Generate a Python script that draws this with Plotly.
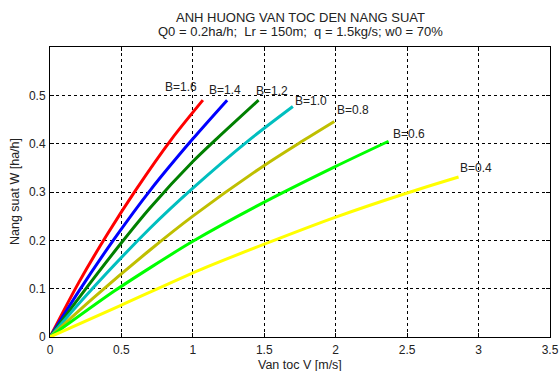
import plotly.graph_objects as go

# Width of the working section B [m] for each curve
widths = ["1.6", "1.4", "1.2", "1.0", "0.8", "0.6", "0.4"]

# Travel speed V [m/s] and productivity W [ha/h] for each width
v_16 = [0, 0.2, 0.4, 0.6, 0.85, 1.07]
w_16 = [0, 0.112, 0.212, 0.304, 0.409, 0.49]

v_14 = [0, 0.2, 0.45, 0.7, 1.0, 1.24]
w_14 = [0, 0.094, 0.203, 0.303, 0.41, 0.49]

v_12 = [0, 0.2, 0.5, 0.7, 1.0, 1.17, 1.46]
w_12 = [0, 0.08, 0.195, 0.267, 0.363, 0.411, 0.49]

v_10 = [0, 0.25, 0.7, 1.0, 1.4, 1.7]
w_10 = [0, 0.085, 0.225, 0.308, 0.409, 0.477]

v_08 = [0, 0.3, 0.7, 1.0, 1.5, 1.77, 1.99]
w_08 = [0, 0.08, 0.18, 0.25, 0.355, 0.406, 0.446]

v_06 = [0, 0.45, 0.7, 1.0, 1.5, 2.0, 2.37]
w_06 = [0, 0.095, 0.143, 0.198, 0.279, 0.353, 0.405]

v_04 = [0, 0.5, 1.05, 1.5, 2.0, 2.5, 2.86]
w_04 = [0, 0.066, 0.139, 0.192, 0.248, 0.298, 0.331]

x_ticks = [0, 0.5, 1, 1.5, 2, 2.5, 3, 3.5]
y_ticks = [0, 0.1, 0.2, 0.3, 0.4, 0.5]

title_lines = [
    "ANH HUONG VAN TOC DEN NANG SUAT",
    "Q0 = 0.2ha/h;  Lr = 150m;  q = 1.5kg/s; w0 = 70%",
]
x_title = "Van toc V [m/s]"
y_title = "Nang suat W [ha/h]"

series = [
    (v_16, w_16), (v_14, w_14), (v_12, w_12), (v_10, w_10),
    (v_08, w_08), (v_06, w_06), (v_04, w_04),
]
colors = ["#ff0000", "#0000ff", "#008000", "#00bfbf", "#bfbf00", "#00ff00", "#ffff00"]
# label offsets in pixels from the end of each curve
label_shift = [(-40, 13), (-20, 10), (-5, 9), (0, 5), (1, 11), (2, 7), (-1, 9)]

font = "Liberation Sans, Arial, sans-serif"
text_color = "#222222"
fig = go.Figure()

for (v, w), color, b in zip(series, colors, widths):
    fig.add_trace(go.Scatter(
        x=v, y=w, mode="lines", name="B=" + b,
        line=dict(color=color, width=3, shape="spline", smoothing=0.8),
        showlegend=False,
    ))

for (v, w), b, (dx, dy) in zip(series, widths, label_shift):
    fig.add_annotation(
        x=v[-1], y=w[-1], text="B=" + b, showarrow=False,
        xanchor="left", yanchor="middle", xshift=dx, yshift=dy,
        font=dict(family=font, size=12, color=text_color),
    )

# two-line title above the axes
for line, ypos in zip(title_lines, [1.100, 1.055]):
    fig.add_annotation(
        x=0.5, y=ypos, xref="paper", yref="paper", text=line,
        showarrow=False, xanchor="center", yanchor="middle",
        font=dict(family=font, size=13, color=text_color),
    )

# axis titles
fig.add_annotation(
    x=0.5, y=-0.097, xref="paper", yref="paper", text=x_title,
    showarrow=False, xanchor="center", yanchor="middle",
    font=dict(family=font, size=12.5, color=text_color),
)
fig.add_annotation(
    x=-0.07, y=0.5, xref="paper", yref="paper", text=y_title, textangle=-90,
    showarrow=False, xanchor="center", yanchor="middle",
    font=dict(family=font, size=12.5, color=text_color),
)

axis_common = dict(
    showline=True, linecolor="black", linewidth=1, mirror="ticks",
    ticks="inside", ticklen=4, tickcolor="black",
    showgrid=True, gridcolor="black", gridwidth=1, griddash="dot",
    zeroline=False, automargin=False,
    tickfont=dict(family=font, size=12, color=text_color),
)

fig.update_xaxes(
    range=[0, 3.5], tickvals=x_ticks, ticktext=[f"{t:g}" for t in x_ticks],
    ticklabelstandoff=2, **axis_common,
)
fig.update_yaxes(
    range=[0, 0.6], tickvals=y_ticks, ticktext=[f"{t:g}" for t in y_ticks],
    ticklabelstandoff=1, **axis_common,
)

fig.update_layout(
    width=560, height=371,
    margin=dict(l=50, r=10, t=47, b=34),
    paper_bgcolor="white", plot_bgcolor="white",
)

fig.write_html("out.html")
